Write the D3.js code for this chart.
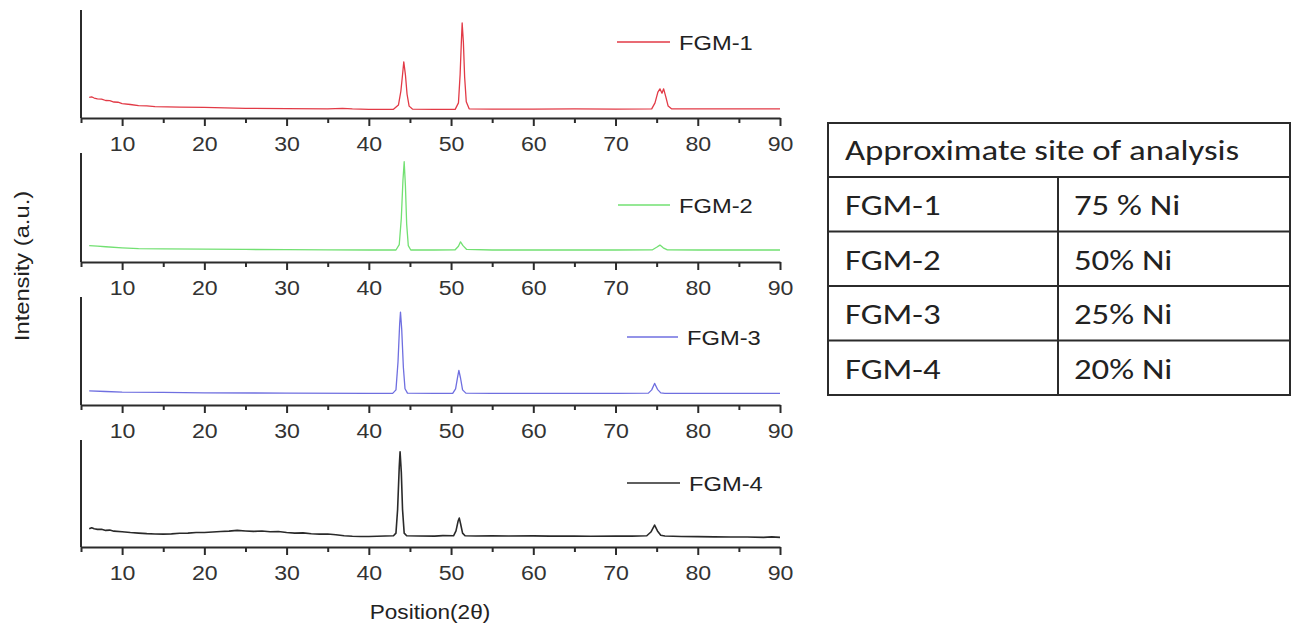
<!DOCTYPE html>
<html><head><meta charset="utf-8">
<script src="https://cdn.jsdelivr.net/npm/d3@7"></script>
<style>html,body{margin:0;padding:0;background:#fff;}svg{display:block;}</style>
</head><body>
<svg id="chart" width="1297" height="626"></svg>
<script>
// ---- data ----
const seriesNames = ["FGM-1", "FGM-2", "FGM-3", "FGM-4"];
const seriesColors = ["#e23a46", "#72e072", "#6f6fe0", "#2a2a2a"];
const xTickValues = [10, 20, 30, 40, 50, 60, 70, 80, 90];
const xMinorTicks = [5, 15, 25, 35, 45, 55, 65, 75, 85];

const fgm1 = [[6,19],[6.3,19.5],[6.6,18.5],[7,17.8],[7.5,17.5],[8,16.2],[8.5,16],[9,14.8],[9.5,14.6],[10,13.4],[11,12.5],[12,11.5],[13,11.2],[14,10.5],[17,10],[20,9.8],[25,9],[30,8.6],[35,8.4],[36.8,9],[38,8.4],[40,8],[43,8],[43.6,12],[43.9,25],[44.1,40],[44.25,52],[44.45,40],[44.65,22],[44.9,11],[45.3,8.3],[48,8],[50.5,8],[50.9,14],[51.1,40],[51.25,70],[51.35,88],[51.5,70],[51.65,38],[51.85,15],[52.2,8.5],[55,8.2],[60,8.2],[65,8.4],[70,8.2],[74.4,8.5],[74.8,14],[75.15,24],[75.4,27],[75.65,23],[75.85,27],[76.1,20],[76.4,11],[76.8,8.5],[80,8.4],[85,8.4],[90,8.4]];
const fgm2 = [[6,15],[7,14.5],[8,14],[10,13],[12,12.3],[15,12],[20,11.8],[25,11.5],[30,11.3],[35,11.2],[40,11],[43.3,11],[43.7,16],[43.95,40],[44.15,75],[44.3,92],[44.45,70],[44.6,35],[44.8,15],[45.1,11],[48,11],[50.5,11.2],[50.9,14.5],[51.15,18.5],[51.45,15],[51.9,11.5],[55,11],[60,11],[65,11],[70,11],[74.5,11.2],[75.0,13.5],[75.4,15.5],[75.8,13],[76.3,11.2],[80,11],[85,11],[90,11]];
const fgm3 = [[6,13],[8,12.5],[10,12],[15,11.7],[20,11.3],[30,11],[40,10.8],[42.9,10.8],[43.3,14],[43.55,40],[43.75,75],[43.85,86],[44.0,70],[44.2,35],[44.4,15],[44.7,11],[48,10.8],[50.2,10.8],[50.55,15],[50.8,26],[50.95,32],[51.15,25],[51.4,14],[51.8,11],[55,10.8],[60,10.8],[70,10.8],[74.0,11],[74.4,14],[74.75,20],[75.1,14.5],[75.5,11.2],[76,10.8],[80,10.8],[90,10.8]];
const fgm4 = [[6,17],[6.3,18],[6.6,17],[7,16.5],[7.5,16.5],[8,15.5],[8.5,15.8],[9,14.8],[10,14.3],[11,13.5],[12,13],[13,12.5],[14,12.2],[15,12],[16,12.3],[17,12.8],[18,13],[19,13.5],[20,13.6],[21,14],[22,14.5],[23,14.8],[24,15.5],[25,15],[26,14.6],[27,15],[28,14.2],[29,14.5],[30,13.5],[31,13],[32,13.2],[33,12.4],[34,12],[35,12.2],[36,11.5],[37,10.5],[38,10],[39,9.8],[40,9.8],[41,10],[42,10.3],[43,10.5],[43.3,13],[43.5,35],[43.7,75],[43.8,89],[43.95,70],[44.1,35],[44.3,13],[44.6,10.5],[46,10.3],[48,10.2],[49,10.6],[50.3,10.5],[50.6,15],[50.85,24],[51.0,27],[51.15,22],[51.4,13],[51.7,10.5],[53,10.3],[55,10.5],[57,10.3],[60,10.4],[62,10.2],[65,10.3],[67,10],[70,10.2],[72,10.2],[73.8,10.5],[74.3,14],[74.75,20.5],[75.1,15],[75.5,11],[76,10.3],[78,9.8],[80,9.7],[82,9.5],[84,9.3],[86,9.4],[88,9],[89,9.5],[90,9]];
const seriesData = [fgm1, fgm2, fgm3, fgm4];

const tableHeader = "Approximate site of analysis";
const tableSamples = ["FGM-1", "FGM-2", "FGM-3", "FGM-4"];
const tableNi = ["75 % Ni", "50% Ni", "25% Ni", "20% Ni"];

// ---- layout ----
const svg = d3.select("#chart");
const axisCol = "#2b2b2b";
const sx = 1.13; // horizontal stretch of the source image
const panels = [
  {top: 10, base: 118, legY: 42, legX1: 617, legX2: 670},
  {top: 153, base: 262, legY: 205, legX1: 618, legX2: 670},
  {top: 297, base: 405, legY: 337, legX1: 627, legX2: 678},
  {top: 440, base: 547, legY: 483, legX1: 627, legX2: 680}
];
const x = d3.scaleLinear().domain([5, 90]).range([81, 780]);

panels.forEach((p, i) => {
  const y = d3.scaleLinear().domain([0, 100]).range([p.base, p.top]);
  const g = svg.append("g");
  g.append("path").datum(seriesData[i])
    .attr("fill", "none").attr("stroke", seriesColors[i])
    .attr("stroke-width", i === 3 ? 1.6 : 1.3)
    .attr("stroke-linejoin", "round")
    .attr("d", d3.line().x(d => x(d[0])).y(d => y(d[1])));
  g.append("line").attr("x1", 81).attr("x2", 81).attr("y1", p.top).attr("y2", p.base)
    .attr("stroke", axisCol).attr("stroke-width", 2);
  const minor = g.append("g").attr("transform", `translate(0,${p.base})`)
    .call(d3.axisBottom(x).tickValues(xMinorTicks).tickSize(5).tickFormat(""));
  minor.select(".domain").remove();
  minor.selectAll("line").attr("stroke", axisCol).attr("stroke-width", 2);
  const ax = g.append("g").attr("transform", `translate(0,${p.base})`)
    .call(d3.axisBottom(x).tickValues(xTickValues).tickSize(8).tickSizeOuter(0));
  ax.select(".domain").attr("stroke", axisCol).attr("stroke-width", 2);
  ax.selectAll(".tick line").attr("stroke", axisCol).attr("stroke-width", 2);
  ax.selectAll(".tick text").attr("y", 0).attr("dy", 0)
    .attr("transform", `translate(0,33) scale(${sx},1)`)
    .attr("font-family", "Liberation Sans, Arial, sans-serif")
    .attr("font-size", 20.5).attr("fill", "#333");
  g.append("line").attr("x1", p.legX1).attr("x2", p.legX2).attr("y1", p.legY).attr("y2", p.legY)
    .attr("stroke", seriesColors[i]).attr("stroke-width", 1.3);
  g.append("text").attr("transform", `translate(${p.legX2 + 9},${p.legY + 7.5}) scale(${sx},1)`)
    .attr("font-family", "Liberation Sans, Arial, sans-serif").attr("font-size", 21)
    .attr("fill", "#222").text(seriesNames[i]);
});

svg.append("text").attr("transform", `translate(430,619) scale(${sx},1)`)
  .attr("text-anchor", "middle").attr("font-family", "Liberation Sans, Arial, sans-serif")
  .attr("font-size", 20).attr("fill", "#222").text("Position(2θ)");
svg.append("text").attr("transform", `translate(29,266) rotate(-90) scale(${sx},1)`)
  .attr("text-anchor", "middle").attr("font-family", "Liberation Sans, Arial, sans-serif")
  .attr("font-size", 21).attr("fill", "#222").text("Intensity (a.u.)");

// table
const tb = svg.append("g");
const tsx = 1.22, tfs = 28.5;
const tX0 = 828, tX1 = 1290, tY0 = 123, tY1 = 395, colX = 1058, headY = 177, rowH = 54.5;
tb.append("rect").attr("x", tX0).attr("y", tY0).attr("width", tX1 - tX0).attr("height", tY1 - tY0)
  .attr("fill", "none").attr("stroke", axisCol).attr("stroke-width", 2);
tb.append("line").attr("x1", tX0).attr("x2", tX1).attr("y1", headY).attr("y2", headY)
  .attr("stroke", axisCol).attr("stroke-width", 2);
tb.append("line").attr("x1", colX).attr("x2", colX).attr("y1", headY).attr("y2", tY1)
  .attr("stroke", axisCol).attr("stroke-width", 2);
tableSamples.forEach((s, i) => {
  if (i > 0) tb.append("line").attr("x1", tX0).attr("x2", tX1)
    .attr("y1", headY + i * rowH).attr("y2", headY + i * rowH)
    .attr("stroke", axisCol).attr("stroke-width", 2);
  const by = headY + i * rowH + 38;
  tb.append("text").attr("transform", `translate(845,${by}) scale(${tsx},1)`)
    .attr("font-family", "Carlito, Lato, sans-serif").attr("font-size", tfs).attr("fill", "#222").text(s);
  tb.append("text").attr("transform", `translate(1074,${by}) scale(${tsx},1)`)
    .attr("font-family", "Carlito, Lato, sans-serif").attr("font-size", tfs).attr("fill", "#222").text(tableNi[i]);
});
tb.append("text").attr("transform", `translate(845,160) scale(${tsx},1)`)
  .attr("font-family", "Carlito, Lato, sans-serif").attr("font-size", tfs).attr("fill", "#222").text(tableHeader);
</script>
</body></html>
